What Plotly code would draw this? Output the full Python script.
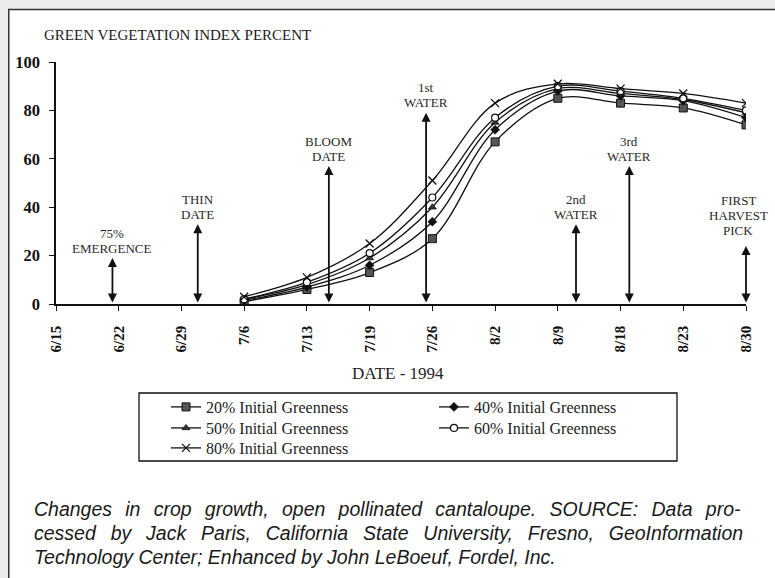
import plotly.graph_objects as go

# ---------------- data ----------------
dates = ["6/15", "6/22", "6/29", "7/6", "7/13", "7/19", "7/26", "8/2", "8/9", "8/18", "8/23", "8/30"]
obs_dates = ["7/6", "7/13", "7/19", "7/26", "8/2", "8/9", "8/18", "8/23", "8/30"]

g20 = [1.0, 6.0, 13.0, 27.0, 67.0, 85.0, 83.0, 81.0, 74.0]
g40 = [1.5, 7.0, 16.0, 34.0, 72.0, 88.0, 86.0, 84.0, 77.0]
g50 = [2.0, 8.0, 19.0, 40.0, 75.0, 89.0, 87.0, 84.5, 79.0]
g60 = [2.0, 9.0, 21.0, 44.0, 77.0, 90.0, 88.0, 85.0, 80.0]
g80 = [3.0, 11.0, 25.0, 51.0, 83.0, 91.0, 89.0, 87.0, 83.0]

series_names = ["20% Initial Greenness", "40% Initial Greenness", "50% Initial Greenness",
                "60% Initial Greenness", "80% Initial Greenness"]

event_labels = [["75%", "EMERGENCE"], ["THIN", "DATE"], ["BLOOM", "DATE"], ["1st", "WATER"],
                ["2nd", "WATER"], ["3rd", "WATER"], ["FIRST", "HARVEST", "PICK"]]
event_pos = [0.9, 2.26, 4.35, 5.9, 8.29, 9.14, 11.0]   # position on the date axis (category index)
event_top = [19, 33, 57, 79, 33, 57, 24]

y_ticks = [0, 20, 40, 60, 80, 100]

caption_lines = [
    "Changes in crop growth, open pollinated cantaloupe. SOURCE: Data pro-",
    "cessed by Jack Paris, California State University, Fresno, GeoInformation",
    "Technology Center; Enhanced by John LeBoeuf, Fordel, Inc.",
]

# ---------------- geometry (pixels) ----------------
W, H = 775, 578
ML, MT = 56, 62
PW, PH = 690, 242
MR = W - ML - PW
MB = H - MT - PH


def px(x):
    return (x - ML) / PW


def py(y):
    return (MT + PH - y) / PH


SERIF = "Liberation Serif"
INK = "#111111"

fig = go.Figure()

styles = [
    dict(symbol="square", size=8, color="#555555", line=dict(color=INK, width=1)),
    dict(symbol="diamond", size=7, color=INK, line=dict(color=INK, width=0.5)),
    dict(symbol="triangle-up", size=7, color="#333333", line=dict(color=INK, width=0.8)),
    dict(symbol="circle", size=7, color="white", line=dict(color=INK, width=1.2)),
    dict(symbol="x-thin-open", size=8, color=INK, line=dict(color=INK, width=1.3)),
]
legend_of = ["legend", "legend", "legend2", "legend2", "legend3"]
for name, vals, st, lg in zip(series_names, [g20, g40, g50, g60, g80], styles, legend_of):
    fig.add_trace(go.Scatter(
        x=obs_dates, y=vals, name=name, mode="lines+markers",
        line=dict(color=INK, width=1.3, shape="spline", smoothing=1.0),
        marker=st, legend=lg,
    ))

# events: double headed arrows + labels
for i, (lines, xp, top) in enumerate(zip(event_labels, event_pos, event_top)):
    fig.add_annotation(
        x=xp, y=top, ax=xp, ay=0, xref="x", yref="y", axref="x", ayref="y",
        text="", showarrow=True, arrowside="end+start", arrowhead=2, startarrowhead=2,
        arrowsize=1.0, startarrowsize=1.0, arrowwidth=1.8, arrowcolor=INK,
        standoff=0, startstandoff=0,
    )
    last = i == len(event_labels) - 1
    base = 15 if last else 10
    for k, txt in enumerate(reversed(lines)):
        fig.add_annotation(
            x=xp, y=top, xref="x", yref="y", text=txt, showarrow=False,
            yanchor="middle", yshift=base + 15 * k, xanchor="center",
            xshift=-8 if last else 0,
            font=dict(family=SERIF, size=13, color="#2a2a2a"),
        )

# outer frame (white panel on grey background)
fig.add_shape(type="rect", xref="paper", yref="paper",
              x0=px(8.75), x1=px(W + 40), y0=py(H + 40), y1=py(9.5),
              fillcolor="white", line=dict(color="#333333", width=1.5), layer="below")
# legend frame
fig.add_shape(type="rect", xref="paper", yref="paper",
              x0=px(139), x1=px(677), y0=py(461), y1=py(393),
              fillcolor="rgba(0,0,0,0)", line=dict(color=INK, width=1.3), layer="above")

# y title
fig.add_annotation(x=px(42), y=py(35), xref="paper", yref="paper", xanchor="left", yanchor="middle",
                   text="GREEN VEGETATION INDEX PERCENT", showarrow=False,
                   font=dict(family=SERIF, size=15, color="#222222"))
# x title
fig.add_annotation(x=px(398), y=py(373), xref="paper", yref="paper", xanchor="center", yanchor="middle",
                   text="DATE - 1994", showarrow=False,
                   font=dict(family=SERIF, size=17, color="#222222"))
# caption (first two lines justified by widening the word gaps)
GAPS = [" \u2009\u2009", " \u2009\u2009\u200a", " "]
for i, line in enumerate(caption_lines):
    txt = line.replace(" ", GAPS[i])
    fig.add_annotation(x=px(32), y=py(509 + 24 * i), xref="paper", yref="paper",
                       xanchor="left", yanchor="middle", text=txt, showarrow=False,
                       font=dict(family="Liberation Sans", size=19.5, color="#1a1a1a", style="italic"))

leg_common = dict(orientation="h", xanchor="left", yanchor="middle", entrywidth=223,
                  bgcolor="rgba(0,0,0,0)", borderwidth=0,
                  font=dict(family=SERIF, size=16, color="#222222"))

fig.update_layout(
    width=W, height=H,
    margin=dict(l=ML, r=MR, t=MT, b=MB, pad=0),
    paper_bgcolor="#ececec", plot_bgcolor="rgba(0,0,0,0)",
    showlegend=True,
    legend=dict(x=px(166), y=py(407), **leg_common),
    legend2=dict(x=px(166), y=py(428), **leg_common),
    legend3=dict(x=px(166), y=py(448), **leg_common),
    xaxis=dict(type="category", categoryorder="array", categoryarray=dates,
               range=[0, 11], showgrid=False, zeroline=False,
               showline=True, linecolor=INK, linewidth=1.5,
               ticks="outside", ticklen=5, tickwidth=1.3, tickcolor=INK,
               tickangle=-90, ticklabelstandoff=9,
               tickfont=dict(family=SERIF, size=15, color="#111111", weight="bold")),
    yaxis=dict(range=[0, 100], tickvals=y_ticks, showgrid=False, zeroline=False,
               showline=True, linecolor=INK, linewidth=1.5,
               ticks="outside", ticklen=5, tickwidth=1.3, tickcolor=INK, ticklabelstandoff=6,
               tickfont=dict(family=SERIF, size=16.5, color="#111111", weight="bold")),
    xaxis2=dict(overlaying="x", anchor="y", range=[0, 11], tickvals=list(range(len(dates))),
                showticklabels=False, ticks="inside", ticklen=5, tickwidth=1.3, tickcolor=INK,
                showgrid=False, zeroline=False, showline=False),
    yaxis2=dict(overlaying="y", anchor="x", range=[0, 100], tickvals=y_ticks,
                showticklabels=False, ticks="inside", ticklen=5, tickwidth=1.3, tickcolor=INK,
                showgrid=False, zeroline=False, showline=False),
)

fig.write_html(
    "out.html",
    config={"displayModeBar": False},
    post_script="document.body.style.margin='0';document.body.style.overflow='hidden';"
                "document.body.style.background='#ececec';",
)
